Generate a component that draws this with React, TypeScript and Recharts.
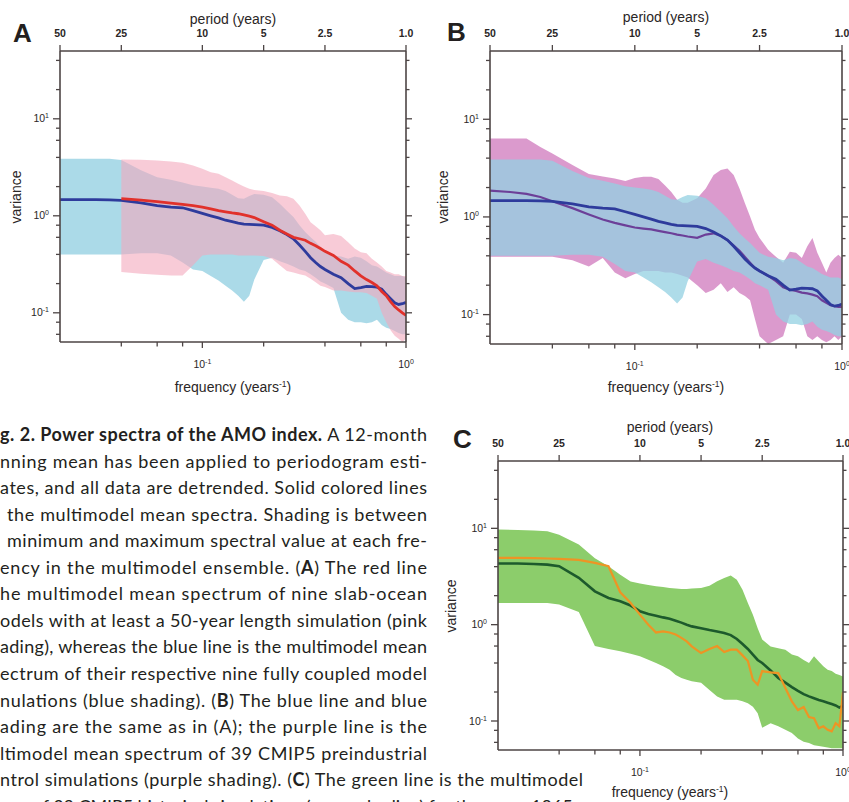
import React from "react";
import { ComposedChart, Area, Line, XAxis, YAxis } from "recharts";

// frequency grid (years^-1)
const freqs = [0.02, 0.025, 0.03, 0.035, 0.04, 0.05, 0.06, 0.07, 0.08, 0.09, 0.1, 0.11, 0.12, 0.13, 0.14, 0.15, 0.16, 0.17, 0.18, 0.2, 0.22, 0.24, 0.26, 0.28, 0.3, 0.32, 0.34, 0.36, 0.38, 0.4, 0.44, 0.48, 0.52, 0.56, 0.6, 0.64, 0.68, 0.72, 0.76, 0.8, 0.84, 0.88, 0.92, 0.96, 1.0];

// fully coupled models (blue shading + blue line), panels A and B
const coupledLo = [0.4, 0.4, 0.4, 0.4, 0.4, 0.41, 0.41, 0.39, 0.33, 0.28, 0.27, 0.24, 0.215, 0.19, 0.17, 0.15, 0.13, 0.15, 0.22, 0.35, 0.37, 0.34, 0.32, 0.3, 0.28, 0.27, 0.25, 0.23, 0.21, 0.2, 0.18, 0.1, 0.085, 0.08, 0.08, 0.078, 0.08, 0.085, 0.075, 0.07, 0.068, 0.065, 0.062, 0.06, 0.06];
const coupledHi = [3.87, 3.87, 3.87, 3.87, 3.75, 2.95, 2.5, 2.35, 2.2, 2.06, 2.0, 1.95, 1.9, 1.8, 1.65, 1.52, 1.5, 1.6, 1.68, 1.65, 1.55, 1.33, 1.13, 0.97, 0.8, 0.68, 0.6, 0.54, 0.48, 0.43, 0.39, 0.38, 0.36, 0.38, 0.37, 0.34, 0.31, 0.3, 0.28, 0.26, 0.25, 0.24, 0.24, 0.24, 0.23];
const coupledMean = [1.47, 1.47, 1.47, 1.46, 1.44, 1.36, 1.27, 1.23, 1.21, 1.13, 1.06, 1.0, 0.95, 0.9, 0.87, 0.84, 0.82, 0.815, 0.81, 0.8, 0.76, 0.7, 0.64, 0.58, 0.5, 0.43, 0.37, 0.33, 0.3, 0.28, 0.25, 0.23, 0.2, 0.178, 0.182, 0.187, 0.186, 0.184, 0.175, 0.155, 0.14, 0.127, 0.122, 0.124, 0.128];

// slab-ocean models (pink shading + red line), panel A
const slabLo = [null, null, null, null, 0.263, 0.253, 0.247, 0.242, 0.242, 0.31, 0.39, 0.4, 0.4, 0.4, 0.4, 0.39, 0.39, 0.39, 0.39, 0.385, 0.36, 0.31, 0.27, 0.26, 0.25, 0.242, 0.224, 0.207, 0.19, 0.184, 0.17, 0.17, 0.166, 0.163, 0.163, 0.16, 0.15, 0.14, 0.1, 0.08, 0.066, 0.058, 0.054, 0.05, 0.054];
const slabHi = [null, null, null, null, 3.81, 3.78, 3.72, 3.63, 3.52, 3.3, 3.05, 2.82, 2.71, 2.5, 2.31, 2.14, 2.0, 1.9, 1.85, 1.8, 1.72, 1.62, 1.59, 1.5, 1.28, 1.05, 0.86, 0.78, 0.71, 0.63, 0.65, 0.62, 0.535, 0.46, 0.42, 0.41, 0.36, 0.33, 0.3, 0.27, 0.26, 0.25, 0.25, 0.24, 0.24];
const slabMean = [null, null, null, null, 1.5, 1.45, 1.4, 1.35, 1.31, 1.27, 1.23, 1.18, 1.13, 1.1, 1.07, 1.05, 1.02, 0.99, 0.96, 0.87, 0.8, 0.71, 0.65, 0.6, 0.58, 0.56, 0.52, 0.49, 0.46, 0.43, 0.39, 0.34, 0.31, 0.27, 0.24, 0.22, 0.205, 0.19, 0.166, 0.15, 0.13, 0.116, 0.107, 0.1, 0.094];

// CMIP5 preindustrial control (purple shading + purple line), panel B
const controlLo = [0.39, 0.39, 0.39, 0.39, 0.39, 0.36, 0.31, 0.38, 0.27, 0.236, 0.26, 0.28, 0.28, 0.28, 0.27, 0.27, 0.26, 0.25, 0.24, 0.2, 0.166, 0.18, 0.21, 0.17, 0.19, 0.166, 0.155, 0.14, 0.09, 0.06, 0.05, 0.055, 0.06, 0.1, 0.1, 0.09, 0.06, 0.055, 0.06, 0.055, 0.052, 0.055, 0.06, 0.055, 0.06];
const controlHi = [6.35, 6.35, 6.35, 5.2, 4.46, 3.4, 2.75, 2.6, 2.48, 2.33, 2.5, 2.58, 2.58, 2.45, 2.1, 1.8, 1.5, 1.4, 1.4, 1.55, 1.96, 2.68, 3.02, 3.14, 2.68, 1.96, 1.38, 1.01, 0.74, 0.61, 0.46, 0.39, 0.34, 0.44, 0.43, 0.38, 0.5, 0.61, 0.43, 0.34, 0.27, 0.34, 0.38, 0.41, 0.38];
const controlMean = [1.86, 1.8, 1.72, 1.6, 1.45, 1.23, 1.06, 0.94, 0.87, 0.82, 0.78, 0.76, 0.745, 0.72, 0.7, 0.68, 0.66, 0.645, 0.63, 0.61, 0.66, 0.68, 0.64, 0.58, 0.51, 0.45, 0.39, 0.34, 0.3, 0.28, 0.25, 0.22, 0.19, 0.18, 0.175, 0.168, 0.165, 0.16, 0.154, 0.14, 0.132, 0.125, 0.122, 0.12, 0.12];

// CMIP5 historical (green shading + green line) and observations (orange), panel C
const histLo = [1.68, 1.68, 1.68, 1.68, 1.62, 1.35, 0.6, 0.56, 0.53, 0.5, 0.47, 0.433, 0.4, 0.37, 0.34, 0.3, 0.28, 0.268, 0.258, 0.25, 0.21, 0.18, 0.166, 0.166, 0.166, 0.16, 0.153, 0.141, 0.12, 0.085, 0.095, 0.088, 0.081, 0.075, 0.066, 0.061, 0.059, 0.056, 0.055, 0.054, 0.053, 0.052, 0.052, 0.052, 0.052];
const histHi = [9.7, 9.6, 9.5, 9.3, 8.6, 6.8, 4.9, 4.04, 3.3, 2.8, 2.67, 2.58, 2.5, 2.46, 2.4, 2.37, 2.35, 2.35, 2.37, 2.4, 2.54, 2.82, 3.05, 3.23, 2.93, 2.31, 1.68, 1.27, 0.92, 0.7, 0.595, 0.57, 0.55, 0.49, 0.47, 0.43, 0.4, 0.47, 0.415, 0.37, 0.34, 0.33, 0.31, 0.3, 0.29];
const histMean = [4.31, 4.31, 4.27, 4.2, 4.04, 3.06, 2.22, 1.89, 1.75, 1.58, 1.38, 1.29, 1.24, 1.19, 1.15, 1.1, 1.05, 1.0, 0.96, 0.92, 0.88, 0.85, 0.82, 0.78, 0.71, 0.63, 0.56, 0.49, 0.43, 0.4, 0.335, 0.28, 0.25, 0.225, 0.205, 0.19, 0.18, 0.172, 0.165, 0.16, 0.155, 0.15, 0.145, 0.138, 0.143];
const observed = [4.93, 4.93, 4.9, 4.86, 4.82, 4.7, 4.38, 4.04, 2.17, 1.68, 1.27, 1.0, 0.83, 0.85, 0.83, 0.79, 0.73, 0.67, 0.595, 0.507, 0.56, 0.6, 0.52, 0.55, 0.55, 0.48, 0.42, 0.268, 0.238, 0.33, 0.32, 0.314, 0.22, 0.16, 0.13, 0.14, 0.11, 0.107, 0.084, 0.088, 0.081, 0.078, 0.095, 0.088, 0.2];

// axis ticks
const freqTicks = [0.04, 0.06, 0.08, 0.1, 0.2, 0.4, 0.6, 0.8, 1];
const freqExp: Record<string, string> = { "0.1": "-1", "1": "0" };
const periodTicks = [0.02, 0.04, 0.1, 0.2, 0.4, 1];
const periodLabels = ["50", "25", "10", "5", "2.5", "1.0"];
const varianceTicks = [0.06, 0.08, 0.1, 0.2, 0.4, 0.6, 0.8, 1, 2, 4, 6, 8, 10, 20, 40];
const varianceExp: Record<string, string> = { "0.1": "-1", "1": "0", "10": "1" };

const captionLines: [string, boolean][][] = [
  [["g. 2. Power spectra of the AMO index.", true], [" A 12-month", false]],
  [["nning mean has been applied to periodogram esti-", false]],
  [["ates, and all data are detrended. Solid colored lines", false]],
  [["the multimodel mean spectra. Shading is between", false]],
  [["minimum and maximum spectral value at each fre-", false]],
  [["ency in the multimodel ensemble. (", false], ["A", true], [") The red line", false]],
  [["he multimodel mean spectrum of nine slab-ocean", false]],
  [["odels with at least a 50-year length simulation (pink", false]],
  [["ading), whereas the blue line is the multimodel mean", false]],
  [["ectrum of their respective nine fully coupled model", false]],
  [["nulations (blue shading). (", false], ["B", true], [") The blue line and blue", false]],
  [["ading are the same as in (A); the purple line is the", false]],
  [["ltimodel mean spectrum of 39 CMIP5 preindustrial", false]],
  [["ntrol simulations (purple shading). (", false], ["C", true], [") The green line is the multimodel", false]],
  [["ean of 39 CMIP5 historical simulations (green shading) for the years 1865–", false]],
];

const band = (lo: (number | null)[], hi: (number | null)[], i: number) =>
  lo[i] == null || hi[i] == null ? null : [lo[i], hi[i]];

const rows = freqs.map((f, i) => ({
  f,
  coupled: band(coupledLo, coupledHi, i),
  coupledMean: coupledMean[i],
  slab: band(slabLo, slabHi, i),
  slabMean: slabMean[i],
  control: band(controlLo, controlHi, i),
  controlMean: controlMean[i],
  hist: band(histLo, histHi, i),
  histMean: histMean[i],
  observed: observed[i],
}));

const INK = "#2a2626";
const FRAME = "#4d4545";
const SANS = "'Liberation Sans', Arial, Helvetica, sans-serif";

const BottomTick = (p: any) => {
  const exp = freqExp[String(p.payload.value)];
  return (
    <g>
      <line x1={p.x} x2={p.x} y1={p.y} y2={p.y + (exp ? 6 : 4.5)} stroke={FRAME} strokeWidth={1.3} />
      {exp && (
        <text x={p.x} y={p.y + 26} textAnchor="middle" fontFamily={SANS} fontSize={10.5} fill={INK}>
          10<tspan dy={-4} fontSize={7}>{exp}</tspan>
        </text>
      )}
    </g>
  );
};

const TopTick = (p: any) => {
  const idx = periodTicks.indexOf(p.payload.value);
  return (
    <g>
      <line x1={p.x} x2={p.x} y1={p.y} y2={p.y - 6} stroke={FRAME} strokeWidth={1.3} />
      <text x={p.x} y={p.y - 14} textAnchor="middle" fontFamily={SANS} fontSize={10.5} fontWeight={700} fill={INK}>
        {periodLabels[idx]}
      </text>
    </g>
  );
};

const LeftTick = (p: any) => {
  const exp = varianceExp[String(p.payload.value)];
  return (
    <g>
      <line x1={p.x} x2={p.x - (exp ? 7 : 4)} y1={p.y} y2={p.y} stroke={FRAME} strokeWidth={1.3} />
      {exp && (
        <text x={p.x - 11} y={p.y + 3.5} textAnchor="end" fontFamily={SANS} fontSize={10.5} fill={INK}>
          10<tspan dy={-4} fontSize={7}>{exp}</tspan>
        </text>
      )}
    </g>
  );
};

const RightTick = (p: any) => {
  const exp = varianceExp[String(p.payload.value)];
  return <line x1={p.x} x2={p.x + (exp ? 6 : 3.5)} y1={p.y} y2={p.y} stroke={FRAME} strokeWidth={1.3} />;
};

const axisLine = { stroke: FRAME, strokeWidth: 1.6 };

const frameAxes = (rightWidth: number) => (
  <>
    <XAxis dataKey="f" type="number" scale="log" domain={[0.02, 1]} allowDataOverflow ticks={freqTicks}
      interval={0} tickSize={0} tickMargin={0} tickLine={false} axisLine={axisLine} tick={(p: any) => <BottomTick {...p} />} height={30} />
    <XAxis xAxisId="top" orientation="top" dataKey="f" type="number" scale="log" domain={[0.02, 1]} allowDataOverflow
      ticks={periodTicks} interval={0} tickSize={0} tickMargin={0} tickLine={false} axisLine={axisLine} tick={(p: any) => <TopTick {...p} />} height={30} />
    <YAxis type="number" scale="log" domain={[0.05, 50]} allowDataOverflow ticks={varianceTicks} interval={0}
      tickSize={0} tickMargin={0} tickLine={false} axisLine={axisLine} tick={(p: any) => <LeftTick {...p} />} width={40} />
    <YAxis yAxisId="right" orientation="right" type="number" scale="log" domain={[0.05, 50]} allowDataOverflow ticks={varianceTicks}
      interval={0} tickSize={0} tickMargin={0} tickLine={false} axisLine={axisLine} tick={(p: any) => <RightTick {...p} />} width={rightWidth} />
  </>
);

const freqTitle = (x: number, y: number) => (
  <text x={x} y={y} textAnchor="middle" fontFamily={SANS} fontSize={14} fill={INK}>
    frequency (years<tspan dy={-5} fontSize={8.5}>-1</tspan><tspan dy={5}>)</tspan>
  </text>
);

const periodTitle = (x: number, y: number) => (
  <text x={x} y={y} textAnchor="middle" fontFamily={SANS} fontSize={14} fill={INK}>period (years)</text>
);

const varianceTitle = (x: number, y: number) => (
  <text x={x} y={y} textAnchor="middle" fontFamily={SANS} fontSize={14} fill={INK} transform={`rotate(-90 ${x} ${y})`}>variance</text>
);

const letter = (t: string, x: number, y: number) => (
  <text x={x} y={y} fontFamily={SANS} fontSize={26} fontWeight={700} fill="#231f20">{t}</text>
);

export default function App() {
  return (
    <div style={{ position: "absolute", left: 0, top: 0, width: 849, height: 802, overflow: "hidden", background: "#fff" }}>
      {/* A */}
      <div style={{ position: "absolute", left: 0, top: 0 }}>
        <ComposedChart width={430} height={400} data={rows} margin={{ top: 21, right: 14, bottom: 28, left: 20 }}>
          {frameAxes(10)}
          <Area type="linear" dataKey="coupled" stroke="none" fill="#93d0e2" fillOpacity={0.78} isAnimationActive={false} />
          <Area type="linear" dataKey="slab" stroke="none" fill="#f4a8bc" fillOpacity={0.6} isAnimationActive={false} />
          <Line type="linear" dataKey="coupledMean" stroke="#2e3b9c" strokeWidth={2.8} dot={false} isAnimationActive={false} />
          <Line type="linear" dataKey="slabMean" stroke="#e1312b" strokeWidth={2.8} dot={false} isAnimationActive={false} />
        </ComposedChart>
      </div>
      {/* B */}
      <div style={{ position: "absolute", left: 430, top: 0 }}>
        <ComposedChart width={419} height={400} data={rows} margin={{ top: 21, right: 0, bottom: 26, left: 20 }}>
          {frameAxes(7)}
          <Area type="linear" dataKey="control" stroke="none" fill="#c864b2" fillOpacity={0.65} isAnimationActive={false} />
          <Area type="linear" dataKey="coupled" stroke="none" fill="#93d0e2" fillOpacity={0.75} isAnimationActive={false} />
          <Line type="linear" dataKey="controlMean" stroke="#6c3f98" strokeWidth={2.2} dot={false} isAnimationActive={false} />
          <Line type="linear" dataKey="coupledMean" stroke="#2e3b9c" strokeWidth={2.8} dot={false} isAnimationActive={false} />
        </ComposedChart>
      </div>
      {/* C */}
      <div style={{ position: "absolute", left: 430, top: 410 }}>
        <ComposedChart width={419} height={392} data={rows} margin={{ top: 21, right: 0, bottom: 22, left: 28 }}>
          {frameAxes(6)}
          <Area type="linear" dataKey="hist" stroke="none" fill="#8ccd6b" fillOpacity={1} isAnimationActive={false} />
          <Line type="linear" dataKey="histMean" stroke="#1d5a2c" strokeWidth={2.6} dot={false} isAnimationActive={false} />
          <Line type="linear" dataKey="observed" stroke="#ee9424" strokeWidth={2.2} dot={false} isAnimationActive={false} />
        </ComposedChart>
      </div>

      <svg width={849} height={802} style={{ position: "absolute", left: 0, top: 0, pointerEvents: "none" }}>
        {letter("A", 13, 42)}
        {letter("B", 447, 41)}
        {letter("C", 453, 448)}
        {periodTitle(233, 24)}
        {periodTitle(666, 22)}
        {periodTitle(670, 432)}
        {varianceTitle(21, 197)}
        {varianceTitle(448, 197)}
        {varianceTitle(456, 606)}
        {freqTitle(233, 392)}
        {freqTitle(666, 392)}
        {freqTitle(670, 797)}
        {captionLines.map((parts, i) => {
          const startX = i === 3 || i === 4 ? 7 : 0;
          const endX = i >= 13 ? 583 : 427;
          return (
            <text key={i} x={startX} y={441 + 26.55 * i} fontFamily="Lato, 'Open Sans', sans-serif" fontSize={18}
              fill="#231f20" textLength={endX - startX} lengthAdjust="spacing">
              {parts.map(([s, b], j) => (
                <tspan key={j} fontWeight={b ? 700 : 400}>{s}</tspan>
              ))}
            </text>
          );
        })}
      </svg>
    </div>
  );
}
